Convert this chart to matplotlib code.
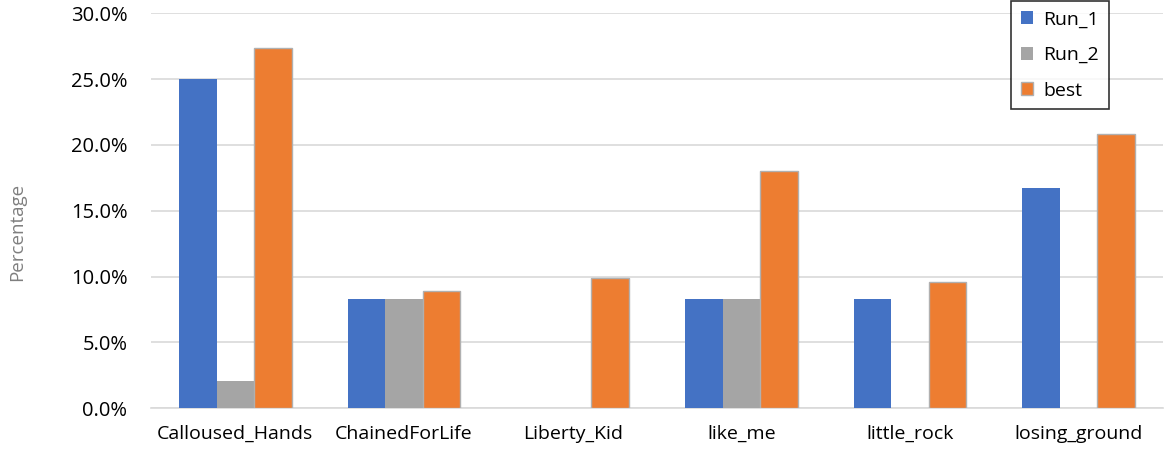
import matplotlib.pyplot as plt
from matplotlib.ticker import PercentFormatter
import numpy as np

plt.rcParams['font.family'] = ['Open Sans', 'DejaVu Sans']

songs = ['Calloused_Hands', 'ChainedForLife', 'Liberty_Kid', 'like_me', 'little_rock', 'losing_ground']
run_1 = [25.0, 8.3, 0.0, 8.3, 8.3, 16.7]
run_2 = [2.1, 8.3, 0.0, 8.3, 0.0, 0.0]
best = [27.4, 8.9, 9.9, 18.0, 9.6, 20.8]

x = np.arange(len(songs))
w = 1 / 4.5

fig = plt.figure(figsize=(11.64, 4.51), dpi=100)
ax = fig.add_axes([151 / 1164, 1 - 408.3 / 451, 1012 / 1164, 395 / 451])

# Excel style grouped bars
ax.bar(x - w, run_1, width=w, color='#4472c4', label='Run_1', zorder=3)
ax.bar(x, run_2, width=w, color='#a5a5a5', label='Run_2', zorder=3)
ax.bar(x + w, best, width=w, color='#ed7d31', edgecolor='#b0b0b0', linewidth=1, label='best', zorder=3)

ax.set_xlim(-0.5, len(songs) - 0.5)
ax.set_ylim(0, 30)
ax.set_yticks(np.arange(0, 31, 5))
ax.yaxis.set_major_formatter(PercentFormatter(decimals=1))
ax.set_xticks(x)
ax.set_xticklabels(songs)
ax.tick_params(axis='both', length=0, labelsize=14, colors='#000000')
ax.tick_params(axis='x', pad=12)
ax.tick_params(axis='y', labelsize=14.5, pad=17)

ax.grid(axis='y', color='#d9d9d9', linewidth=1.2, zorder=0)
for s in ['top', 'right', 'left']:
    ax.spines[s].set_visible(False)
ax.spines['bottom'].set_color('#d9d9d9')
ax.spines['bottom'].set_linewidth(1.2)

fig.text(17 / 1164, 1 - 232 / 451, 'Percentage', rotation=90, color='#7f7f7f',
         fontsize=13.5, ha='center', va='center')

leg = fig.legend(loc='upper left', bbox_to_anchor=(1011 / 1164, 1 - 1 / 451),
                 fontsize=14, frameon=True, fancybox=False, handlelength=0.65,
                 handleheight=0.65, handletextpad=0.5, labelspacing=0.9,
                 borderpad=0.5, borderaxespad=0)
leg.get_frame().set_edgecolor('black')
leg.get_frame().set_linewidth(1.2)

fig.savefig('out.png', dpi=100)
